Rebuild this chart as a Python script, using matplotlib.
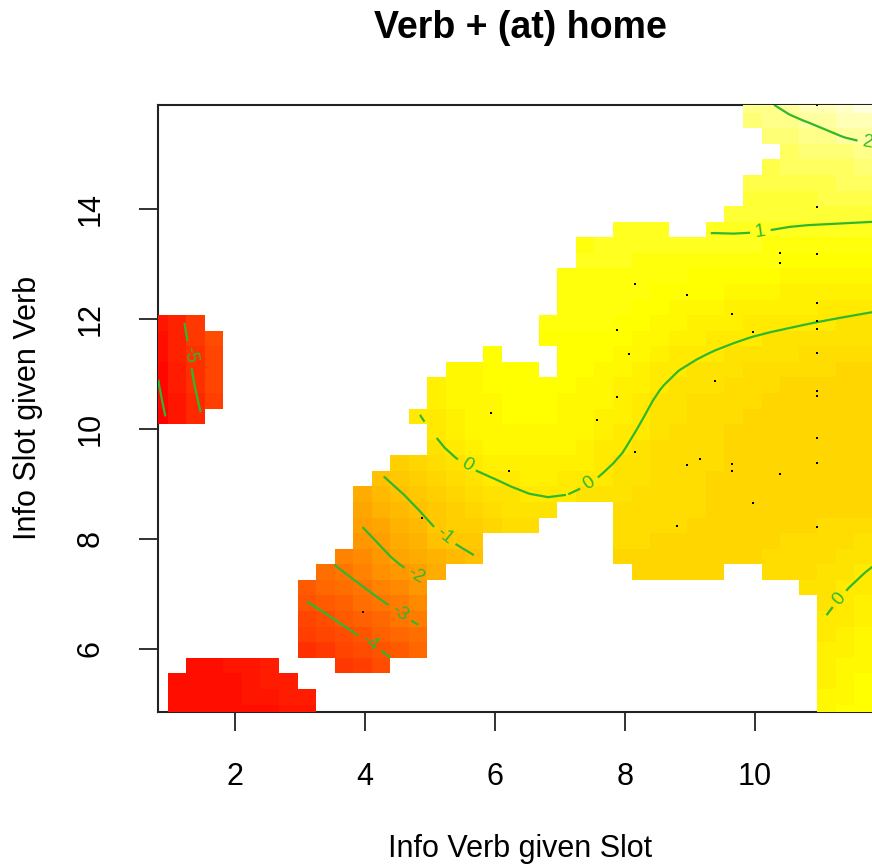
import numpy as np
import matplotlib
matplotlib.use("Agg")
import matplotlib.pyplot as plt
from matplotlib.colors import ListedColormap, Normalize, hsv_to_rgb
import matplotlib.tri as mtri

# ---------------- data ----------------
TITLE = "Verb + (at) home"
XLABEL = "Info Verb given Slot"
YLABEL = "Info Slot given Verb"
XTICKS = [2, 4, 6, 8, 10]
YTICKS = [6, 8, 10, 12, 14]
X_RANGE = (0.814, 11.96)      # first / last grid centre on x
Y_RANGE = (4.842, 15.905)     # first / last grid centre on y
N_GRID = 40
LEVELS = [-6, -5, -4, -3, -2, -1, 0, 1, 2]
Z_LIMITS = (-6.3, 2.9)

# smooth surface sampled at nodes (estimated from colours and contours)
X_NODES = [0.8, 1.8, 2.8, 3.8, 4.8, 5.8, 6.8, 7.8, 8.8, 9.8, 10.8, 12.0]
Y_NODES = [4.8, 5.8, 6.8, 7.8, 8.8, 9.8, 10.8, 11.8, 12.8, 13.8, 14.8, 16.0]
Z_Y4_8  = [-5.85, -5.82, -5.72, -5.3, -4.4, -3.5, -2.6, -1.8, -1.1, -0.5, 0.25, 0.85]
Z_Y5_8  = [-5.85, -5.78, -5.2, -4.5, -3.7, -2.8, -2.0, -1.4, -0.9, -0.5, 0.05, 0.6]
Z_Y6_8  = [-5.95, -5.2, -4.3, -3.5, -2.6, -1.8, -1.2, -0.8, -0.55, -0.4, -0.15, 0.3]
Z_Y7_8  = [-5.9, -4.7, -3.5, -2.5, -1.5, -0.85, -0.55, -0.45, -0.45, -0.45, -0.35, -0.05]
Z_Y8_8  = [-6.1, -4.6, -3.0, -1.7, -0.85, -0.25, 0.02, -0.15, -0.35, -0.45, -0.5, -0.5]
Z_Y9_8  = [-6.3, -4.6, -2.4, -0.95, -0.2, 0.35, 0.45, 0.12, -0.3, -0.45, -0.55, -0.6]
Z_Y10_8 = [-6.05, -4.2, -2.2, -0.9, 0.1, 0.5, 0.55, 0.35, -0.08, -0.3, -0.45, -0.55]
Z_Y11_8 = [-5.8, -3.95, -2.0, -0.7, 0.2, 0.6, 0.7, 0.65, 0.3, 0.08, -0.05, -0.18]
Z_Y12_8 = [-5.5, -3.7, -1.8, -0.5, 0.35, 0.75, 0.85, 0.85, 0.7, 0.62, 0.45, 0.35]
Z_Y13_8 = [-5.3, -3.5, -1.6, -0.3, 0.5, 0.85, 0.95, 0.9, 1.05, 1.1, 1.05, 1.01]
Z_Y14_8 = [-5.2, -3.3, -1.5, -0.2, 0.6, 0.9, 1.0, 1.05, 1.2, 1.35, 1.5, 1.7]
Z_Y16_0 = [-5.1, -3.2, -1.4, -0.1, 0.7, 1.0, 1.1, 1.2, 1.5, 1.85, 2.25, 2.75]

# grid cells that are shown (row from bottom, first col, last col)
MASK_RUNS = [
    (0, 1, 8), (0, 36, 39), (1, 1, 8), (1, 36, 39), (2, 1, 7), (2, 36, 39),
    (3, 2, 6), (3, 10, 12), (3, 36, 39),
    (4, 8, 14), (4, 36, 39), (5, 8, 14), (5, 36, 39), (6, 8, 14), (6, 36, 39),
    (7, 8, 14), (7, 36, 39), (8, 8, 14), (8, 35, 39),
    (9, 9, 15), (9, 26, 30), (9, 33, 39),
    (10, 10, 17), (10, 25, 39), (11, 11, 17), (11, 25, 39),
    (12, 11, 20), (12, 25, 39), (13, 11, 21), (13, 25, 39),
    (14, 11, 39), (15, 12, 39), (16, 13, 39), (17, 15, 39), (18, 15, 39),
    (19, 0, 2), (19, 14, 39), (20, 0, 3), (20, 15, 39), (21, 0, 3), (21, 15, 39),
    (22, 0, 3), (22, 16, 20), (22, 22, 39), (23, 0, 3), (23, 18, 18), (23, 22, 39),
    (24, 0, 3), (24, 21, 39), (25, 0, 2), (25, 21, 39),
    (26, 22, 39), (27, 22, 39), (28, 22, 39), (29, 23, 39), (30, 23, 39),
    (31, 25, 27), (31, 30, 39), (32, 31, 39), (33, 32, 39), (34, 32, 39),
    (35, 33, 39), (36, 34, 39), (37, 33, 39), (38, 32, 39), (39, 32, 39),
]

# observed data points
POINT_X = [10.96, 10.96, 10.38, 10.96, 10.38, 8.16, 8.96, 10.96, 9.64, 10.96,
           10.96, 9.97, 7.88, 8.06, 10.96, 9.38, 10.96, 10.96, 5.94, 7.88,
           7.57, 10.96, 8.16, 8.96, 9.15, 9.64, 9.64, 10.96, 10.38, 6.22,
           9.97, 4.88, 8.80, 10.96, 3.97]
POINT_Y = [15.90, 14.05, 13.20, 13.19, 13.02, 12.65, 12.45, 12.30, 12.10, 11.97,
           11.83, 11.77, 11.81, 11.36, 11.38, 10.88, 10.70, 10.61, 10.29, 10.58,
           10.16, 9.83, 9.59, 9.35, 9.45, 9.36, 9.23, 9.39, 9.19, 9.24,
           8.66, 8.39, 8.23, 8.21, 6.67]

# contour label anchor positions
LABEL_POS = [(1.26, 11.35), (4.03, 6.04), (4.51, 6.61), (4.80, 7.37), (5.21, 8.04),
             (5.52, 9.26), (7.52, 8.89), (11.26, 6.95), (10.08, 13.63), (11.74, 15.23)]

# ---------------- style ----------------
GREEN = "#2fb82f"
plt.rcParams['font.family'] = ['Liberation Sans', 'DejaVu Sans']


def heat_colors(n):
    j = n // 4
    i = n - j
    cols = [hsv_to_rgb((k / (i - 1) / 6.0, 1.0, 1.0)) for k in range(i)]
    s0, s1 = 1 - 1 / (2 * j), 1 / (2 * j)
    for m in range(j):
        s = s0 + (s1 - s0) * m / (j - 1)
        cols.append(hsv_to_rgb((1 / 6.0, s, 1.0)))
    return cols


cmap = ListedColormap(heat_colors(50))
norm = Normalize(vmin=Z_LIMITS[0], vmax=Z_LIMITS[1])

# surface on the display grid, through matplotlib's triangulation interpolator
z_nodes = np.array([Z_Y4_8, Z_Y5_8, Z_Y6_8, Z_Y7_8, Z_Y8_8, Z_Y9_8, Z_Y10_8,
                    Z_Y11_8, Z_Y12_8, Z_Y13_8, Z_Y14_8, Z_Y16_0])
XN, YN = np.meshgrid(X_NODES, Y_NODES)
nx, ny = len(X_NODES), len(Y_NODES)
tris = []
for r in range(ny - 1):
    for c in range(nx - 1):
        a = r * nx + c
        tris.append([a, a + 1, a + nx + 1])
        tris.append([a, a + nx + 1, a + nx])
tri = mtri.Triangulation(XN.ravel(), YN.ravel(), np.array(tris))
interp = mtri.CubicTriInterpolator(tri, z_nodes.ravel(), kind='geom')

xc = np.linspace(X_RANGE[0], X_RANGE[1], N_GRID)
yc = np.linspace(Y_RANGE[0], Y_RANGE[1], N_GRID)
dx = xc[1] - xc[0]
dy = yc[1] - yc[0]
XG, YG = np.meshgrid(xc, yc)
Z = np.array(interp(XG, YG).filled(np.nan))

shown = np.zeros((N_GRID, N_GRID), dtype=bool)
for r, c0, c1 in MASK_RUNS:
    shown[r, c0:c1 + 1] = True
Zm = np.ma.masked_where(~shown | np.isnan(Z), Z)

xe = np.concatenate([[xc[0] - dx / 2], (xc[:-1] + xc[1:]) / 2, [xc[-1] + dx / 2]])
ye = np.concatenate([[yc[0] - dy / 2], (yc[:-1] + yc[1:]) / 2, [yc[-1] + dy / 2]])

# ---------------- figure ----------------
W, H = 872, 865
fig = plt.figure(figsize=(W / 100, H / 100), dpi=100)
left, right, top, bottom = 158.3, 882.2, 104.9, 712.3
ax = fig.add_axes([left / W, 1 - bottom / H, (right - left) / W, (bottom - top) / H])

ax.pcolormesh(xe, ye, Zm, cmap=cmap, norm=norm, shading='flat', zorder=1)
cs = ax.contour(xc, yc, Zm, levels=LEVELS, colors=GREEN, linewidths=1.6,
                linestyles='solid', zorder=2)
ax.clabel(cs, manual=LABEL_POS, inline=True, fmt='%d', fontsize=13.5, colors=GREEN)
ax.plot(POINT_X, POINT_Y, ls='none', marker='s', ms=1.6, mew=0, color='black', zorder=3)

ax.set_xlim(X_RANGE)
ax.set_ylim(Y_RANGE)
ax.set_xticks(XTICKS)
ax.set_yticks(YTICKS)
ax.set_xticklabels([str(t) for t in XTICKS])
ax.set_yticklabels([str(t) for t in YTICKS], rotation=90, va='center', ha='center')
ax.tick_params(axis='both', direction='out', length=13.5, width=1.3, labelsize=22,
               colors='#222222', labelcolor='black')
ax.tick_params(axis='x', pad=22)
ax.tick_params(axis='y', pad=35)
for sp in ax.spines.values():
    sp.set_linewidth(1.5)
    sp.set_color('#222222')
    sp.set_zorder(0.5)

fig.text(520 / W, 1 - 28 / H, TITLE, ha='center', va='center', fontsize=27, fontweight='bold')
fig.text(520 / W, 1 - 849 / H, XLABEL, ha='center', va='center', fontsize=22)
fig.text(28 / W, 1 - 408 / H, YLABEL, ha='center', va='center', fontsize=22, rotation=90)

fig.savefig("out.png", dpi=100)
